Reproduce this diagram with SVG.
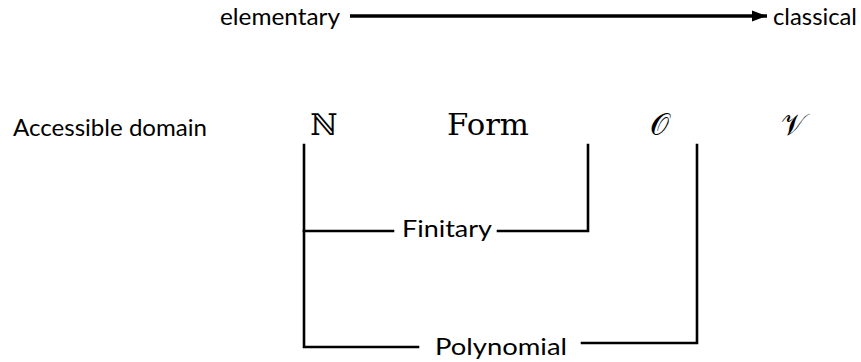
<svg xmlns="http://www.w3.org/2000/svg" width="861" height="362" viewBox="0 0 861 362">
<style>
.t{font-family:Lato,"Open Sans","Liberation Sans",sans-serif;font-size:24px;fill:#000}
.m{font-family:"DejaVu Serif","DejaVu Sans","Liberation Serif",serif;font-size:30px;fill:#000}
.c{fill:none;stroke:#000;stroke-width:2.6;stroke-linecap:square;stroke-linejoin:miter}
</style>
<defs>
<marker id="ah" markerUnits="userSpaceOnUse" markerWidth="16" markerHeight="14" refX="15" refY="6" orient="auto">
<polygon points="0,0.5 15,6 0,11.5" fill="#000"/>
</marker>
</defs>
<rect width="861" height="362" fill="#fff"/>
<g id="n-elementary"><text class="t" x="220" y="25" textLength="120" lengthAdjust="spacingAndGlyphs">elementary</text></g>
<g id="n-classical"><text class="t" x="773" y="25" textLength="84" lengthAdjust="spacingAndGlyphs">classical</text></g>
<g id="n-accessible"><text class="t" x="13" y="136" textLength="194" lengthAdjust="spacingAndGlyphs">Accessible domain</text></g>
<g id="n-N"><text class="m" x="324" y="135" text-anchor="middle">ℕ</text></g>
<g id="n-Form"><text class="m" x="447" y="135" textLength="82" lengthAdjust="spacingAndGlyphs">Form</text></g>
<g id="n-O"><text class="m" x="659" y="135" text-anchor="middle">𝒪</text></g>
<g id="n-V"><text class="m" x="793" y="135" text-anchor="middle">𝒱</text></g>
<g id="n-finitary"><text class="t" x="402" y="237" textLength="90" lengthAdjust="spacingAndGlyphs">Finitary</text></g>
<g id="n-polynomial"><text class="t" x="435" y="355" textLength="132" lengthAdjust="spacingAndGlyphs">Polynomial</text></g>
<g id="connectors">
<line x1="350" y1="16" x2="767" y2="16" stroke="#000" stroke-width="3.5" marker-end="url(#ah)"/>
<polyline class="c" points="304,145 304,347 418,347"/>
<polyline class="c" points="304,231 393,231"/>
<polyline class="c" points="498,231 588,231 588,145"/>
<polyline class="c" points="582,343 697,343 697,145"/>
</g>
</svg>
